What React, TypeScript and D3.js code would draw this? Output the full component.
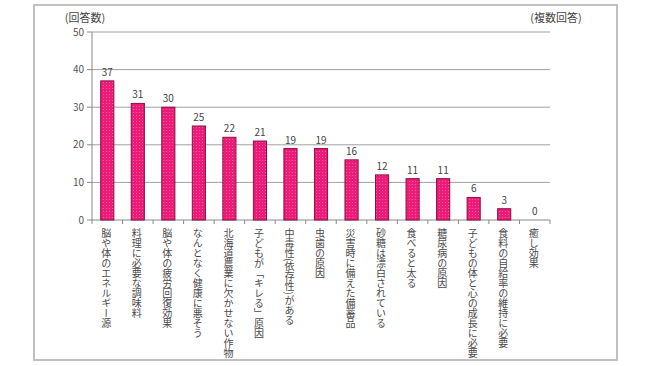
import React from "react";
import * as d3 from "d3";

const categories = [
  "脳や体のエネルギー源",
  "料理に必要な調味料",
  "脳や体の疲労回復効果",
  "なんとなく健康に悪そう",
  "北海道農業に欠かせない作物",
  "子どもが「キレる」原因",
  "中毒性(依存性)がある",
  "虫歯の原因",
  "災害時に備えた備蓄品",
  "砂糖は漂白されている",
  "食べると太る",
  "糖尿病の原因",
  "子どもの体と心の成長に必要",
  "食料の自給率の維持に必要",
  "癒し効果",
];
const values = [37, 31, 30, 25, 22, 21, 19, 19, 16, 12, 11, 11, 6, 3, 0];
const yTicks = [0, 10, 20, 30, 40, 50];

const FONT = "'Noto Sans CJK JP', 'Noto Sans', sans-serif";

export default function App() {
  const W = 650, H = 366;
  const left = 92, right = 550, top = 32, bottom = 220;
  const x = d3.scaleBand<string>().domain(categories).range([left, right]).paddingInner(0.57).paddingOuter(0.285);
  const xb = d3.scaleBand<string>().domain(categories).range([left, right]);
  const y = d3.scaleLinear().domain([0, 50]).range([bottom, top]);

  return (
    <svg width={W} height={H} style={{ position: "absolute", left: 0, top: 0, background: "#fff" }}>
      <defs>
        <pattern id="dots" width="3" height="3" patternUnits="userSpaceOnUse">
          <rect width="3" height="3" fill="#ee1a78" />
          <circle cx="1.5" cy="1.5" r="0.6" fill="#f66aa8" />
        </pattern>
      </defs>
      <rect x={34} y={5} width={583} height={355} fill="#fff" stroke="#c0c0c0" strokeWidth={2} />
      <text x={85} y={22} fontSize={11} fill="#444" fontFamily={FONT} textAnchor="middle">(回答数)</text>
      <text x={556} y={22} fontSize={11} fill="#444" fontFamily={FONT} textAnchor="middle">(複数回答)</text>
      {yTicks.map((t) => (
        <g key={t}>
          {t > 0 && <line x1={left} x2={right} y1={y(t)} y2={y(t)} stroke="#a0a0a0" strokeWidth={1} />}
          <line x1={left - 5} x2={left} y1={y(t)} y2={y(t)} stroke="#888" strokeWidth={1} />
          <text x={left - 8} y={y(t) + 3.5} fontSize={10} fill="#555" fontFamily={FONT} textAnchor="end">{t}</text>
        </g>
      ))}
      <line x1={left} x2={left} y1={top} y2={bottom} stroke="#888" strokeWidth={1} />
      <line x1={left} x2={right} y1={bottom} y2={bottom} stroke="#888" strokeWidth={1} />
      {categories.map((c, i) => (
        <line key={"t" + i} x1={xb(c)!} x2={xb(c)!} y1={bottom} y2={bottom + 4} stroke="#888" strokeWidth={1} />
      ))}
      <line x1={right} x2={right} y1={bottom} y2={bottom + 4} stroke="#888" strokeWidth={1} />
      {categories.map((c, i) => (
        <g key={c}>
          {values[i] > 0 && (
            <rect x={x(c)!} y={y(values[i])} width={x.bandwidth()} height={bottom - y(values[i])}
              fill="url(#dots)" stroke="#8a1040" strokeWidth={1} />
          )}
          <text x={x(c)! + x.bandwidth() / 2} y={y(values[i]) - 5} fontSize={10} fill="#444"
            fontFamily={FONT} textAnchor="middle">{values[i]}</text>
          <text x={xb(c)! + xb.bandwidth() / 2 - 1} y={228} fontSize={10} fill="#4a4a4a" fontFamily={FONT}
            style={{ writingMode: "vertical-rl", textOrientation: "mixed" } as any}>{c}</text>
        </g>
      ))}
    </svg>
  );
}
